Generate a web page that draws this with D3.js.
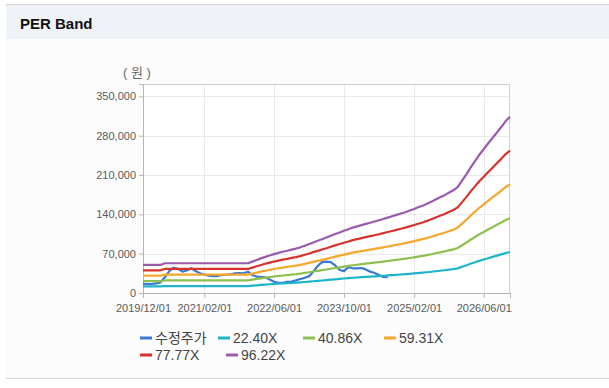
<!DOCTYPE html>
<html>
<head>
<meta charset="utf-8">
<script src="https://cdn.jsdelivr.net/npm/d3@7"></script>
<style>
  body { margin: 0; background: #fff; }
  svg { display: block; }
</style>
</head>
<body>
<svg id="chart"></svg>
<script>
// monthly data, first month = 2019/12/01
const startMonth = "2019/12/01";

// adjusted price (수정주가), 2019/12 .. 2024/08
const price = [
  16500, 16000, 16000, 17000, 19000, 28000, 39000, 45000, 43000, 38000,
  40000, 44000, 39000, 35000, 33000, 31000, 30000, 30000, 32000, 32500,
  33000, 35000, 35500, 35000, 38000, 32000, 29000, 28500, 28000, 24000,
  20000, 18000, 18000, 20000, 20500, 22500, 25000, 27000, 30000, 38000,
  48000, 55000, 56000, 55000, 49000, 41000, 39000, 46000, 44000, 44000,
  44500, 42000, 38000, 35500, 32000, 28500, 28000
];

// EPS used for the bands, 2019/12 .. 2026/12
const eps = [
  519, 519, 519, 519, 519,
  550, 550, 550, 550, 550, 550, 550, 550, 550, 550,
  550, 550, 550, 550, 550, 550, 550, 550, 550, 550,
  580, 612, 640, 668, 695, 720,
  742, 763, 782, 803, 822, 845,
  875, 905, 935, 965, 995,
  1025, 1058, 1090, 1120, 1150, 1180, 1210,
  1232, 1255, 1278, 1300, 1322, 1345, 1370,
  1395, 1420, 1445, 1470, 1495,
  1525, 1555, 1585, 1615, 1650, 1690, 1730, 1770, 1810, 1855, 1900, 1960,
  2080, 2200, 2320, 2440, 2557,
  2660, 2765, 2868,
  2970, 3070, 3180, 3260
];

const multiples = [22.40, 40.86, 59.31, 77.77, 96.22];
const bandColors = ["#1db4cb", "#8dc04f", "#f6a72c", "#d8322c", "#9a5aae"];
const priceColor = "#3a79d2";

const xTicks = ["2019/12/01", "2021/02/01", "2022/06/01", "2023/10/01", "2025/02/01", "2026/06/01"];
const yTicks = [0, 70000, 140000, 210000, 280000, 350000];

const W = 609, H = 388;
const m = { left: 143, right: 99, top: 84, bottom: 95 };

const parse = d3.timeParse("%Y/%m/%d");
const start = parse(startMonth);
const monthAt = (i) => d3.timeMonth.offset(start, i);

const svg = d3.select("#chart").attr("width", W).attr("height", H);

// panel background + header
svg.append("rect").attr("x", 6).attr("y", 4).attr("width", W - 6).attr("height", 374).attr("fill", "#fcfcfc");
svg.append("rect").attr("x", 6).attr("y", 5).attr("width", W - 6).attr("height", 34).attr("fill", "#eff2f7");
svg.append("line").attr("x1", 6).attr("x2", W).attr("y1", 4.5).attr("y2", 4.5).attr("stroke", "#d6d6d6");
svg.append("line").attr("x1", 6).attr("x2", W).attr("y1", 378.5).attr("y2", 378.5).attr("stroke", "#d6d6d6");
svg.append("text")
  .attr("x", 20).attr("y", 29)
  .text("PER Band")
  .style("font-family", "'Liberation Sans', Arial, sans-serif")
  .style("font-weight", "bold")
  .style("font-size", "15px")
  .attr("fill", "#111");

const x = d3.scaleTime()
  .domain([start, monthAt(eps.length - 1)])
  .range([m.left, W - m.right]);
const y = d3.scaleLinear()
  .domain([0, 372000])
  .range([H - m.bottom, m.top]);

const font = "'Liberation Sans', Arial, 'Noto Sans CJK KR', sans-serif";

// plot background
svg.append("rect")
  .attr("x", m.left).attr("y", m.top)
  .attr("width", W - m.right - m.left).attr("height", H - m.bottom - m.top)
  .attr("fill", "#fff");

// grid
svg.append("g")
  .selectAll("line")
  .data(yTicks.slice(1))
  .enter()
  .append("line")
  .attr("x1", m.left).attr("x2", W - m.right)
  .attr("y1", (d) => Math.round(y(d)) + 0.5).attr("y2", (d) => Math.round(y(d)) + 0.5)
  .attr("stroke", "#e9e9e9");

svg.append("g")
  .selectAll("line")
  .data(xTicks.slice(1))
  .enter()
  .append("line")
  .attr("x1", (d) => Math.round(x(parse(d))) + 0.5).attr("x2", (d) => Math.round(x(parse(d))) + 0.5)
  .attr("y1", m.top).attr("y2", H - m.bottom)
  .attr("stroke", "#e9e9e9");

// plot border (top / right)
svg.append("rect")
  .attr("x", m.left + 0.5).attr("y", m.top + 0.5)
  .attr("width", W - m.right - m.left - 1).attr("height", H - m.bottom - m.top)
  .attr("fill", "none")
  .attr("stroke", "#cfcfcf");

// axes
const xAxis = svg.append("g")
  .attr("transform", `translate(0,${H - m.bottom})`)
  .call(d3.axisBottom(x).tickValues(xTicks.map(parse)).tickFormat(d3.timeFormat("%Y/%m/%d")).tickSize(5).tickPadding(6));

const yAxis = svg.append("g")
  .attr("transform", `translate(${m.left},0)`)
  .call(d3.axisLeft(y).tickValues(yTicks).tickFormat(d3.format(",")).tickSize(4).tickPadding(3));

[xAxis, yAxis].forEach((g) => {
  g.select(".domain").attr("stroke", "#b5b5b5");
  g.selectAll(".tick line").attr("stroke", "#b5b5b5");
  g.selectAll("text")
    .attr("fill", "#5a5a5a")
    .style("font-family", font)
    .style("font-size", "11px");
});

svg.append("text")
  .attr("x", 137).attr("y", 77)
  .attr("text-anchor", "middle")
  .text("( 원 )")
  .attr("fill", "#666")
  .style("font-family", font)
  .style("font-size", "13px");

const line = d3.line()
  .x((d) => x(d.date))
  .y((d) => y(d.value));

// price goes under the bands
svg.append("path")
  .datum(price.map((v, i) => ({ date: monthAt(i), value: v })))
  .attr("d", line)
  .attr("fill", "none")
  .attr("stroke", priceColor)
  .attr("stroke-width", 2.2)
  .attr("stroke-linejoin", "round");

multiples.forEach((mult, k) => {
  svg.append("path")
    .datum(eps.map((e, i) => ({ date: monthAt(i), value: e * mult })))
    .attr("d", line)
    .attr("fill", "none")
    .attr("stroke", bandColors[k])
    .attr("stroke-width", 2.2)
    .attr("stroke-linejoin", "round");
});

// legend
const legendItems = [
  { name: "수정주가", color: priceColor, x: 140, y: 338 },
  { name: "22.40X", color: bandColors[0], x: 218, y: 338 },
  { name: "40.86X", color: bandColors[1], x: 303, y: 338 },
  { name: "59.31X", color: bandColors[2], x: 384, y: 338 },
  { name: "77.77X", color: bandColors[3], x: 140, y: 355 },
  { name: "96.22X", color: bandColors[4], x: 226, y: 355 },
];

const lg = svg.append("g")
  .selectAll("g")
  .data(legendItems)
  .enter()
  .append("g")
  .attr("transform", (d) => `translate(${d.x},${d.y})`);

lg.append("rect")
  .attr("x", 0).attr("y", -1.5)
  .attr("width", 12).attr("height", 3)
  .attr("fill", (d) => d.color);

lg.append("text")
  .attr("x", 15).attr("y", 5)
  .text((d) => d.name)
  .attr("fill", "#444")
  .style("font-family", font)
  .style("font-size", "14px");
</script>
</body>
</html>
